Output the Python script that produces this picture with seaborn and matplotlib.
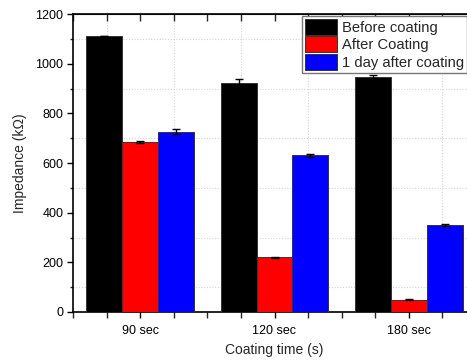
import matplotlib
matplotlib.use("Agg")
import matplotlib.pyplot as plt
import seaborn as sns
import pandas as pd
from matplotlib.ticker import MultipleLocator

groups = ["90 sec", "120 sec", "180 sec"]
series = ["Before coating", "After Coating", "1 day after coating"]
before = [1112, 922, 948]
after = [685, 220, 50]
day1 = [725, 632, 350]
before_err = [0, 15, 6]
after_err = [4, 3, 3]
day1_err = [10, 6, 3]
colors = ["#000000", "#ff0000", "#0000ff"]

rows = []
for s, vals, errs in zip(series, [before, after, day1], [before_err, after_err, day1_err]):
    for g, v, e in zip(groups, vals, errs):
        rows.append({"group": g, "series": s, "value": v, "err": e})
df = pd.DataFrame(rows)

sns.set_style("ticks")
plt.rcParams["font.family"] = ["Liberation Sans", "DejaVu Sans"]

fig = plt.figure(figsize=(4.67, 3.6), dpi=100)
W, H = 467, 360
left, right, top, bottom = 73, 476, 14, 312
ax = fig.add_axes([left / W, 1 - bottom / H, (right - left) / W, (bottom - top) / H])

sns.barplot(data=df, x="group", y="value", hue="series", order=groups, hue_order=series,
            palette=colors, saturation=1, errorbar=None, width=0.8,
            edgecolor="#333333", linewidth=0.7, ax=ax, zorder=3)

for cont, s in zip(ax.containers, series):
    sub = df[df["series"] == s].set_index("group").loc[groups]
    xs = [p.get_x() + p.get_width() / 2 for p in cont.patches]
    ax.errorbar(xs, sub["value"].values, yerr=sub["err"].values, fmt="none",
                ecolor="black", elinewidth=1, capsize=3, capthick=1, zorder=4)

ax.set_xlim(-0.5, 2.5)
ax.set_ylim(0, 1200)
ax.yaxis.set_major_locator(MultipleLocator(200))
ax.yaxis.set_minor_locator(MultipleLocator(100))
ax.xaxis.set_minor_locator(MultipleLocator(0.25))

for yv in range(100, 1200, 200):
    ax.axhline(yv, color="#d4d4d4", lw=0.8, ls=(0, (1, 1.5)), zorder=0)
for xv in [-0.25, 0.25, 0.75, 1.25, 1.75, 2.25]:
    ax.axvline(xv, color="#d4d4d4", lw=0.8, ls=(0, (1, 1.5)), zorder=0)

ax.tick_params(axis="both", which="major", direction="out", length=4, width=1,
               labelsize=9, colors="black", pad=5)
ax.tick_params(axis="both", which="minor", direction="out", length=2.5, width=1)
ax.tick_params(axis="x", which="minor", length=4)
ax.tick_params(axis="y", which="major", pad=3)
for spine in ax.spines.values():
    spine.set_visible(True)
    spine.set_linewidth(1.2)
    spine.set_color("black")

topax = ax.secondary_xaxis("top")
topax.xaxis.set_major_locator(MultipleLocator(0.25))
topax.tick_params(axis="x", which="major", direction="in", length=5, width=1, labeltop=False)

ax.set_xlabel("Coating time (s)", fontsize=10, labelpad=5)
ax.set_ylabel("Impedance (kΩ)", fontsize=10, labelpad=6)

leg = ax.legend(loc="upper left",
                bbox_to_anchor=((302 - left) / (right - left), 1 - 2 / (bottom - top)),
                fontsize=10.6, frameon=True, fancybox=False,
                edgecolor="#777777", framealpha=1, borderaxespad=0,
                handlelength=2.2, handleheight=1.25, handletextpad=0.3,
                labelspacing=0.12, borderpad=0.2)
leg.get_frame().set_linewidth(1)

fig.savefig("out.png", dpi=100)
